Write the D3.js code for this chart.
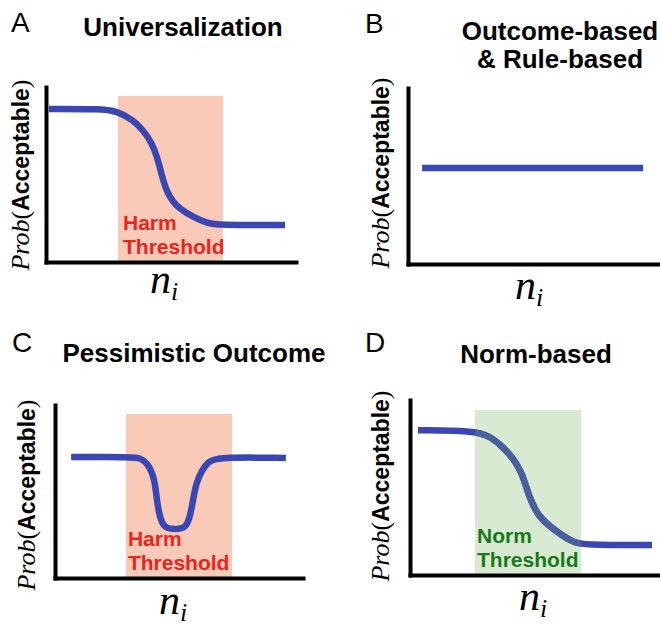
<!DOCTYPE html>
<html><head><meta charset="utf-8">
<script src="https://cdn.jsdelivr.net/npm/d3@7"></script>
<style>body{margin:0;background:#fff}svg{display:block}</style>
</head><body><svg id="c" width="660" height="627"></svg>
<script>
// ---- data ----
const panelLetters = ["A", "B", "C", "D"];
const panelTitles = [["Universalization"], ["Outcome-based", "& Rule-based"], ["Pessimistic Outcome"], ["Norm-based"]];
const thresholdLabels = [["Harm", "Threshold"], null, ["Harm", "Threshold"], ["Norm", "Threshold"]];
const yLabelItalic = "Prob";
const yLabelBold = "Acceptable";
const xLabelMain = "n";
const xLabelSub = "i";

// curves: n_i (0-10 arbitrary units) vs Prob(Acceptable) (0-1)
const curveAx = [0.12, 2.16, 2.84, 3.48, 3.88, 4.24, 4.44, 4.56, 4.68, 4.84, 5.08, 5.36, 5.88, 6.44, 6.84, 9.56];
const curveAy = [0.874, 0.874, 0.863, 0.811, 0.754, 0.68, 0.60, 0.537, 0.469, 0.40, 0.343, 0.303, 0.257, 0.223, 0.211, 0.211];
const curveBx = [0.56, 9.33];
const curveBy = [0.545, 0.545];
const curveCx = [0.65, 3.15, 3.43, 3.71, 3.91, 4.03, 4.11, 4.19, 4.31, 4.48, 4.84, 5.20, 5.36, 5.47, 5.57, 5.69, 5.93, 6.17, 6.53, 9.31];
const curveCy = [0.699, 0.699, 0.694, 0.665, 0.613, 0.549, 0.451, 0.376, 0.318, 0.287, 0.281, 0.287, 0.318, 0.376, 0.451, 0.549, 0.624, 0.671, 0.699, 0.694];
const curveDx = [0.32, 2.52, 3.2, 3.72, 4.12, 4.48, 4.68, 4.88, 5.12, 5.48, 6.0, 6.52, 6.88, 9.68];
const curveDy = [0.827, 0.825, 0.794, 0.731, 0.669, 0.583, 0.486, 0.411, 0.343, 0.291, 0.234, 0.189, 0.171, 0.171];
// threshold bands [xStart, xEnd, yTop]
const bandA = [2.88, 7.08, 0.949];
const bandC = [2.86, 7.14, 0.948];
const bandD = [2.6, 6.84, 0.943];

// ---- layout / style ----
const SANS = "'Liberation Sans', Arial, Helvetica, sans-serif";
const SERIF = "'Liberation Serif', 'Times New Roman', serif";
const BLUE = "#3a46b2";
const layout = [
  {x0: 46, x1: 296, yTop: 87, yBot: 262, letter: [11, 32], title: [183, 36], ylab: [29, 175], ni: [153, 293], thrOff: 5,
   band: bandA, bandFill: "#f9cab7", textFill: "#e8261f", cx: curveAx, cy: curveAy},
  {x0: 408, x1: 660, yTop: 88, yBot: 264, letter: [365, 33], title: [560, 40], ylab: [389, 173], ni: [518, 299], thrOff: 0,
   band: null, cx: curveBx, cy: curveBy},
  {x0: 55, x1: 303, yTop: 405, yBot: 578, letter: [12, 352], title: [194, 362], ylab: [35, 495], ni: [162, 614], thrOff: 2,
   band: bandC, bandFill: "#f9cab7", textFill: "#e8261f", cx: curveCx, cy: curveCy},
  {x0: 410, x1: 660, yTop: 400, yBot: 575, letter: [365, 352], title: [536, 363], ylab: [389, 486], ni: [522, 610], thrOff: 2,
   band: bandD, bandFill: "#d9ead2", textFill: "#17791a", cx: curveDx, cy: curveDy, innerColor: "#4a609c"}
];

const svg = d3.select("#c");

layout.forEach((L, i) => {
  const g = svg.append("g");
  const x = d3.scaleLinear().domain([0, 10]).range([L.x0, L.x1]);
  const y = d3.scaleLinear().domain([0, 1]).range([L.yBot, L.yTop]);

  // band
  if (L.band) {
    g.append("rect")
      .attr("x", x(L.band[0])).attr("y", y(L.band[2]))
      .attr("width", x(L.band[1]) - x(L.band[0])).attr("height", y(0) - y(L.band[2]))
      .attr("fill", L.bandFill);
    const lab = thresholdLabels[i];
    g.append("text").attr("x", x(L.band[0]) + L.thrOff).attr("y", L.yBot - 32)
      .attr("font-family", SANS).attr("font-weight", "bold").attr("font-size", 21)
      .attr("fill", L.textFill).text(lab[0]);
    g.append("text").attr("x", x(L.band[0]) + L.thrOff).attr("y", L.yBot - 8)
      .attr("font-family", SANS).attr("font-weight", "bold").attr("font-size", 21)
      .attr("fill", L.textFill).text(lab[1]);
  }

  // curve
  const pts = L.cx.map((v, k) => [v, L.cy[k]]);
  const line = d3.line().x(d => x(d[0])).y(d => y(d[1])).curve(d3.curveBasis);
  g.append("path").attr("d", line(pts)).attr("fill", "none")
    .attr("stroke", BLUE).attr("stroke-width", 6.5).attr("stroke-linecap", "butt");
  if (L.innerColor) {
    const cid = "clip" + i;
    svg.append("clipPath").attr("id", cid).append("rect")
      .attr("x", x(L.band[0])).attr("y", y(L.band[2]))
      .attr("width", x(L.band[1]) - x(L.band[0])).attr("height", y(0) - y(L.band[2]));
    g.append("path").attr("d", line(pts)).attr("fill", "none")
      .attr("clip-path", `url(#${cid})`)
      .attr("stroke", L.innerColor).attr("stroke-width", 6.5);
  }

  // axes
  const ya = g.append("g").attr("transform", `translate(${L.x0},0)`)
    .call(d3.axisLeft(y).tickValues([]).tickSizeOuter(0));
  const xa = g.append("g").attr("transform", `translate(0,${L.yBot})`)
    .call(d3.axisBottom(x).tickValues([]).tickSizeOuter(0));
  [ya, xa].forEach(a => a.select(".domain").attr("stroke", "#000").attr("stroke-width", 4).attr("stroke-linecap", "square"));

  // panel letter
  g.append("text").attr("x", L.letter[0]).attr("y", L.letter[1])
    .attr("font-family", SANS).attr("font-size", 28).attr("fill", "#000").text(panelLetters[i]);

  // title
  panelTitles[i].forEach((t, k) => {
    g.append("text").attr("x", L.title[0]).attr("y", L.title[1] + k * 28)
      .attr("text-anchor", "middle").attr("font-family", SANS).attr("font-weight", "bold")
      .attr("font-size", 26).attr("fill", "#000").text(t);
  });

  // y label
  const yl = g.append("text")
    .attr("transform", `translate(${L.ylab[0]},${L.ylab[1]}) rotate(-90)`)
    .attr("text-anchor", "middle").attr("fill", "#000");
  yl.append("tspan").attr("font-family", SERIF).attr("font-style", "italic").attr("font-size", 26).text(yLabelItalic);
  yl.append("tspan").attr("font-family", SERIF).attr("font-size", 26).text("(");
  yl.append("tspan").attr("font-family", SANS).attr("font-weight", "bold").attr("font-size", 23).text(yLabelBold);
  yl.append("tspan").attr("font-family", SERIF).attr("font-size", 26).text(")");

  // x label
  const xl = g.append("text").attr("x", L.ni[0] - 3).attr("y", L.ni[1]).attr("fill", "#000")
    .attr("font-family", SERIF).attr("font-style", "italic");
  xl.append("tspan").attr("font-size", 42).text(xLabelMain);
  xl.append("tspan").attr("font-size", 26).attr("dy", 7).attr("dx", 0).text(xLabelSub);
});
</script></body></html>
